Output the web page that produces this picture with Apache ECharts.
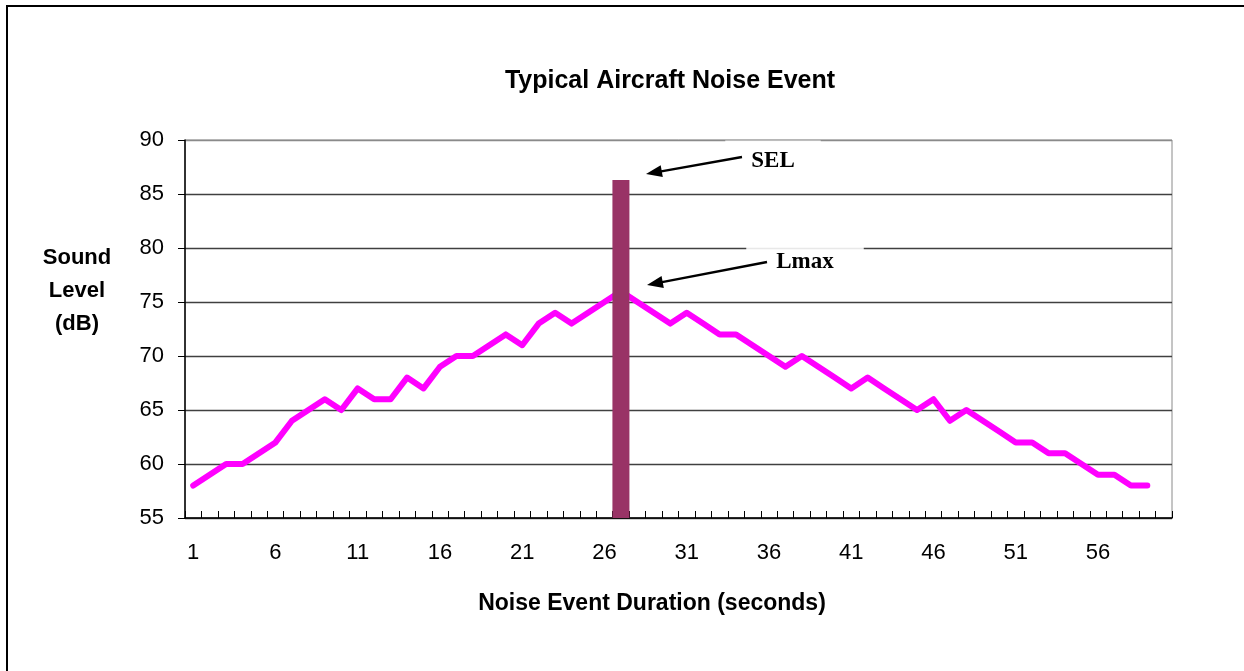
<!DOCTYPE html>
<html>
<head>
<meta charset="utf-8">
<script src="https://cdn.jsdelivr.net/npm/echarts@6/dist/echarts.min.js"></script>
<style>
html,body{margin:0;padding:0;background:#fff;}
#chart{width:1244px;height:671px;}
</style>
</head>
<body>
<div id="chart"></div>
<script>
// ---- data ----
var seconds = [];
for (var i = 1; i <= 60; i++) seconds.push(String(i));
var soundLevel = [58,59,60,60,61,62,64,65,66,65,67,66,66,68,67,69,70,70,71,72,71,73,74,73,74,75,76,75,74,73,74,73,72,72,71,70,69,70,69,68,67,68,67,66,65,66,64,65,64,63,62,62,61,61,60,59,59,58,58,null];
var selSecond = '27';
var selValue = 86.3;
var yTicks = {min: 55, max: 90, step: 5};
var titleText = 'Typical Aircraft Noise Event';
var xName = 'Noise Event Duration (seconds)';
var yName = 'Sound\nLevel\n(dB)';
var notes = ['SEL', 'Lmax'];

var selData = seconds.map(function (s) { return s === selSecond ? selValue : null; });

function arrow(x1, y1, x2, y2) {
  var dx = x2 - x1, dy = y2 - y1, L = Math.sqrt(dx * dx + dy * dy);
  var ux = dx / L, uy = dy / L, nx = -uy, ny = ux;
  var hl = 16, hw = 6;
  var bx = x2 - ux * hl, by = y2 - uy * hl;
  return [
    {type: 'line', shape: {x1: x1, y1: y1, x2: bx + ux * 2, y2: by + uy * 2}, style: {stroke: '#000', lineWidth: 2.4}, z: 20},
    {type: 'polygon', shape: {points: [[x2, y2], [bx + nx * hw, by + ny * hw], [bx - nx * hw, by - ny * hw]]}, style: {fill: '#000'}, z: 20}
  ];
}

var chart = echarts.init(document.getElementById('chart'), null, {renderer: 'canvas'});
var gridColors = ['#404040','#404040','#404040','#404040','#404040','#404040','#404040','#8a8a8a'];
var sansFont = '"Liberation Sans", Arial, sans-serif';

var graphics = [
  {type: 'rect', shape: {x: 7, y: 6, width: 1400, height: 800}, style: {fill: 'none', stroke: '#000', lineWidth: 2}, z: 0, silent: true},
  {type: 'text', x: 77, y: 291, style: {text: yName, font: 'bold 22px ' + sansFont, fill: '#000', align: 'center', verticalAlign: 'middle', lineHeight: 33}, z: 20},
  {type: 'text', x: 652, y: 604, style: {text: xName, font: 'bold 23px ' + sansFont, fill: '#000', align: 'center', verticalAlign: 'middle'}, z: 20},
  {type: 'text', x: 773, y: 161, style: {text: notes[0], font: 'bold 23px "Liberation Serif", "Times New Roman", serif', fill: '#000', align: 'center', verticalAlign: 'middle', backgroundColor: 'rgba(255,255,255,0.88)', padding: [9, 26, 9, 26]}, z: 19},
  {type: 'text', x: 805, y: 262, style: {text: notes[1], font: 'bold 23px "Liberation Serif", "Times New Roman", serif', fill: '#000', align: 'center', verticalAlign: 'middle', backgroundColor: 'rgba(255,255,255,0.88)', padding: [9, 30, 9, 30]}, z: 19}
].concat(arrow(742, 157, 646, 174)).concat(arrow(767, 262, 647, 285));

chart.setOption({
  animation: false,
  backgroundColor: '#fff',
  title: {
    text: titleText,
    left: 665,
    top: 64,
    textAlign: 'center',
    textStyle: {fontFamily: sansFont, fontWeight: 'bold', fontSize: 25, color: '#000'}
  },
  grid: {left: 185, right: 72, top: 140, bottom: 153, show: true, borderColor: '#8a8a8a', borderWidth: 1, backgroundColor: '#fff'},
  xAxis: {
    type: 'category',
    data: seconds,
    boundaryGap: true,
    axisLine: {lineStyle: {color: '#000', width: 1.5}},
    axisTick: {show: true, inside: true, length: 7, interval: 0, lineStyle: {color: '#000'}},
    axisLabel: {interval: 4, margin: 24, fontSize: 22, fontFamily: sansFont, color: '#000'},
    splitLine: {show: false}
  },
  yAxis: {
    type: 'value',
    min: yTicks.min,
    max: yTicks.max,
    interval: yTicks.step,
    axisLine: {show: true, lineStyle: {color: '#000', width: 1.5}},
    axisTick: {show: true, inside: false, length: 7, lineStyle: {color: '#000'}},
    axisLabel: {margin: 21, fontSize: 22, fontFamily: sansFont, color: '#000'},
    splitLine: {show: true, lineStyle: {color: gridColors, width: 1.3}}
  },
  series: [
    {
      name: 'Sound Level',
      type: 'line',
      data: soundLevel,
      showSymbol: false,
      symbol: 'none',
      connectNulls: false,
      lineStyle: {color: '#ff00ff', width: 6, cap: 'round', join: 'round'},
      itemStyle: {color: '#ff00ff'},
      z: 3
    },
    {
      name: 'SEL',
      type: 'bar',
      data: selData,
      barWidth: 17,
      itemStyle: {color: '#993366'},
      z: 5
    }
  ],
  graphic: graphics
});
</script>
</body>
</html>
